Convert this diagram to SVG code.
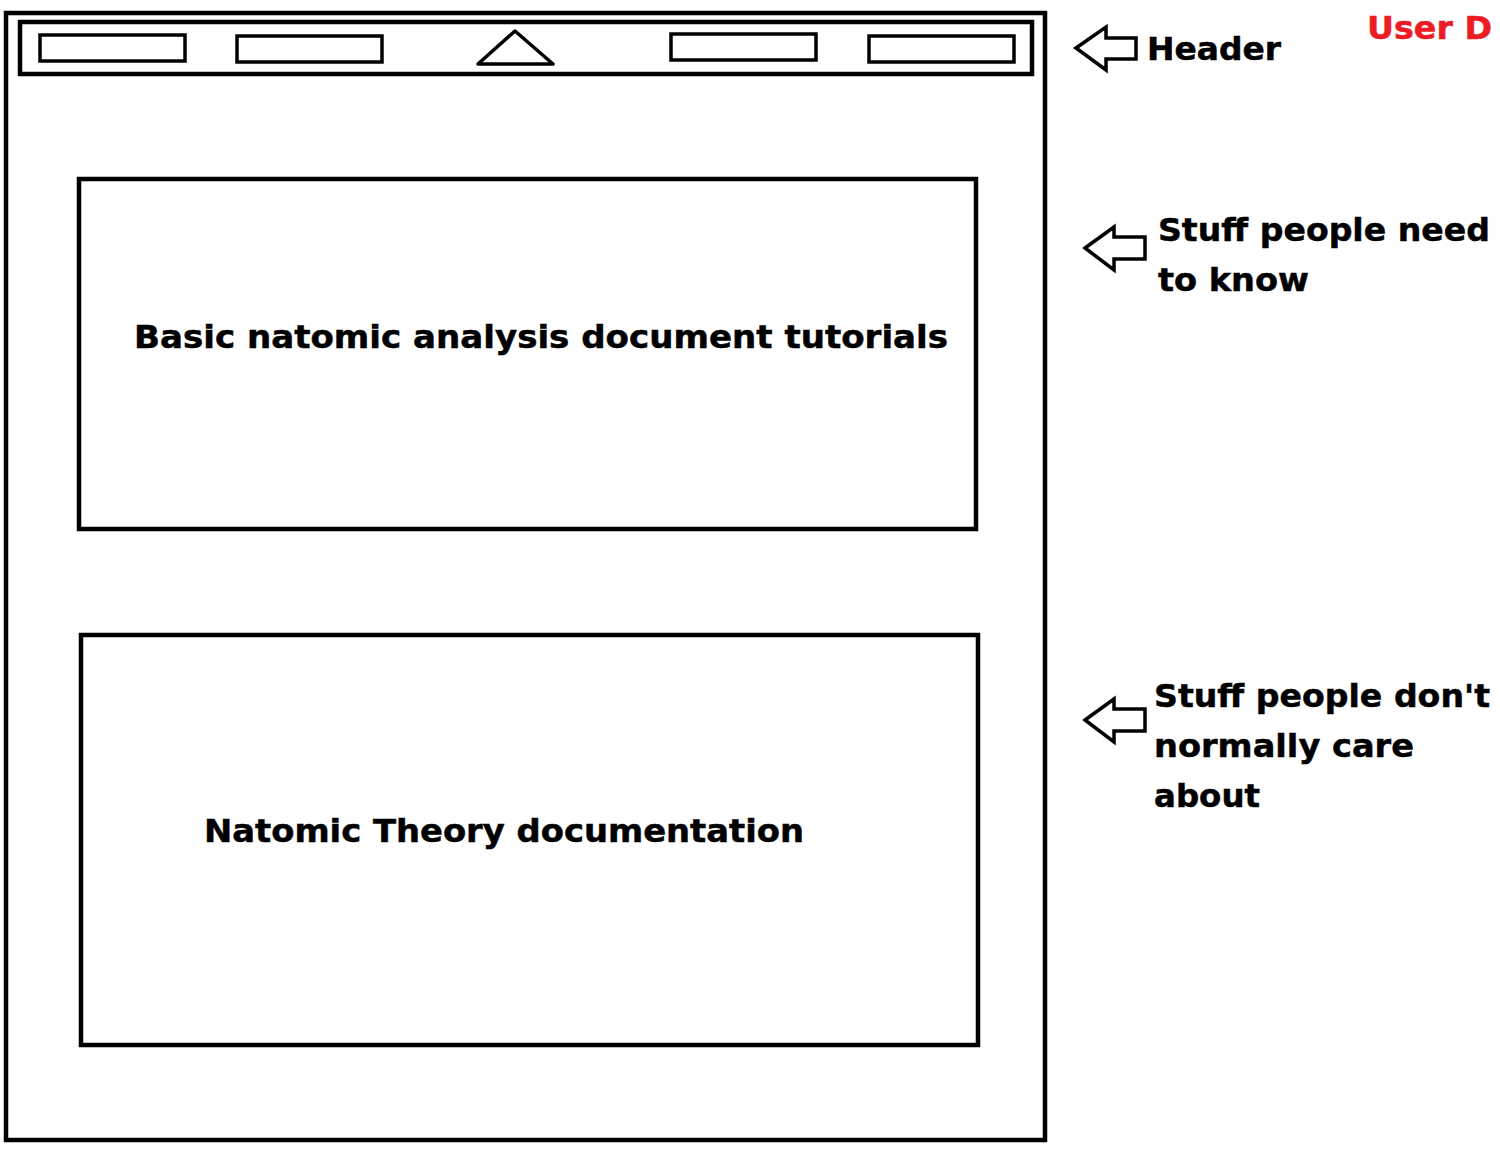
<svg xmlns="http://www.w3.org/2000/svg" width="1500" height="1152" viewBox="0 0 1500 1152">
<style>
.frame{fill:none;stroke:#000;stroke-width:4.5}
.btn{fill:none;stroke:#000;stroke-width:3.5}
.arrow{fill:none;stroke:#000;stroke-width:3.5;stroke-linejoin:miter}
text{font-family:"DejaVu Sans","Liberation Sans",sans-serif;font-weight:bold;fill:#000;stroke:#000;stroke-width:0.5}
text.red{fill:#ed1c24;stroke:#ed1c24}
</style>
<rect width="1500" height="1152" fill="#fff"/>
<g id="page"><rect class="frame" x="6" y="13" width="1039" height="1127"/></g>
<g id="header">
<rect class="frame" x="20" y="22" width="1012" height="52"/>
<rect class="btn" x="40" y="35" width="145" height="26"/>
<rect class="btn" x="237" y="36" width="145" height="26"/>
<polygon class="btn" points="515,31 553,64 478,64" stroke-linejoin="round"/>
<rect class="btn" x="671" y="34" width="145" height="26"/>
<rect class="btn" x="869" y="36" width="145" height="26"/>
</g>
<g id="box-tutorials">
<rect class="frame" x="79" y="179" width="897" height="350"/>
<text x="134" y="348" font-size="32" textLength="814" lengthAdjust="spacingAndGlyphs">Basic natomic analysis document tutorials</text>
</g>
<g id="box-theory">
<rect class="frame" x="81" y="635" width="897" height="410"/>
<text x="204" y="842" font-size="32" textLength="600" lengthAdjust="spacingAndGlyphs">Natomic Theory documentation</text>
</g>
<g id="connectors">
<polygon class="arrow" points="1076,48 1106,27 1106,38 1136,38 1136,59 1106,59 1106,70"/>
<polygon class="arrow" points="1085,248 1114,227 1114,237 1145,237 1145,259 1114,259 1114,270"/>
<polygon class="arrow" points="1085,720 1114,699 1114,709 1145,709 1145,731 1114,731 1114,742"/>
</g>
<g id="label-header"><text x="1147" y="60" font-size="32" textLength="134" lengthAdjust="spacingAndGlyphs">Header</text></g>
<g id="label-user"><text class="red" x="1367" y="39" font-size="32" textLength="125" lengthAdjust="spacingAndGlyphs">User D</text></g>
<g id="label-need">
<text x="1158" y="241" font-size="32" textLength="332" lengthAdjust="spacingAndGlyphs">Stuff people need</text>
<text x="1158" y="291" font-size="32" textLength="151" lengthAdjust="spacingAndGlyphs">to know</text>
</g>
<g id="label-dontcare">
<text x="1154" y="707" font-size="32" textLength="336" lengthAdjust="spacingAndGlyphs">Stuff people don't</text>
<text x="1154" y="757" font-size="32" textLength="260" lengthAdjust="spacingAndGlyphs">normally care</text>
<text x="1154" y="807" font-size="32" textLength="106" lengthAdjust="spacingAndGlyphs">about</text>
</g>
</svg>
